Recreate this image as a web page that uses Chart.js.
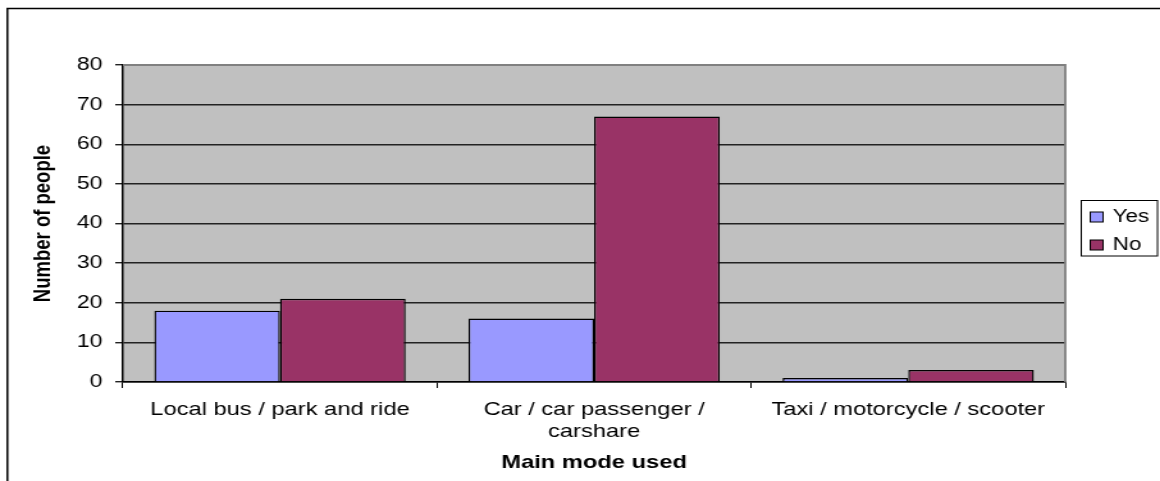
<!DOCTYPE html>
<html>
<head>
<meta charset="utf-8">
<script src="https://cdn.jsdelivr.net/npm/chart.js@4/dist/chart.umd.min.js"></script>
<style>
html,body{margin:0;padding:0;background:#fff;overflow:hidden;}
#wrap{position:relative;width:906px;height:481px;transform:scaleX(1.2804);transform-origin:0 0;}
</style>
</head>
<body>
<div id="wrap"><canvas id="c" width="906" height="481"></canvas></div>
<script>
const categories = [["Local bus / park and ride"], ["Car / car passenger /", "carshare"], ["Taxi / motorcycle / scooter"]];
const seriesNames = ["Yes", "No"];
const yesValues = [18, 16, 1];
const noValues = [21, 67, 3];
const yTicks = [0, 10, 20, 30, 40, 50, 60, 70, 80];
const colors = ["#9999FF", "#993366"];

const FONT = "'Liberation Sans', Arial, sans-serif";

const framePlugin = {
  id: 'frame',
  beforeDraw(chart) {
    const ctx = chart.ctx;
    const a = chart.chartArea;
    ctx.save();
    ctx.fillStyle = '#ffffff';
    ctx.fillRect(0, 0, chart.width, chart.height);
    ctx.strokeStyle = '#000';
    ctx.lineWidth = 1.5;
    ctx.beginPath();
    ctx.moveTo(5.8, chart.height);
    ctx.lineTo(5.8, 8.5);
    ctx.lineTo(chart.width, 8.5);
    ctx.stroke();
    ctx.fillStyle = '#C0C0C0';
    ctx.fillRect(a.left, a.top, a.right - a.left, a.bottom - a.top);
    ctx.restore();
  },
  afterDatasetsDraw(chart) {
    const ctx = chart.ctx;
    const a = chart.chartArea;
    ctx.save();
    ctx.strokeStyle = '#808080';
    ctx.lineWidth = 1.8;
    ctx.beginPath();
    ctx.moveTo(a.left, a.top);
    ctx.lineTo(a.right, a.top);
    ctx.lineTo(a.right, a.bottom);
    ctx.stroke();
    ctx.restore();
  },
  afterDraw(chart) {
    const ctx = chart.ctx;
    const a = chart.chartArea;
    const x0 = a.right + 12.5, y0 = 200.5, w = 59.5, h = 55.5;
    ctx.save();
    ctx.fillStyle = '#fff';
    ctx.fillRect(x0, y0, w, h);
    ctx.strokeStyle = '#000';
    ctx.lineWidth = 1;
    ctx.strokeRect(x0, y0, w, h);
    ctx.font = '17.5px ' + FONT;
    ctx.textBaseline = 'middle';
    chart.data.datasets.forEach((ds, i) => {
      const cy = y0 + 16.5 + i * 28;
      ctx.fillStyle = ds.backgroundColor;
      ctx.fillRect(x0 + 7, cy - 5, 10, 10);
      ctx.strokeStyle = '#000';
      ctx.strokeRect(x0 + 7, cy - 5, 10, 10);
      ctx.fillStyle = '#000';
      ctx.fillText(ds.label, x0 + 24.5, cy);
    });
    ctx.restore();
  }
};

new Chart(document.getElementById('c'), {
  type: 'bar',
  data: {
    labels: categories,
    datasets: [
      { label: seriesNames[0], data: yesValues, backgroundColor: colors[0], borderColor: '#000', borderWidth: 1.4 },
      { label: seriesNames[1], data: noValues, backgroundColor: colors[1], borderColor: '#000', borderWidth: 1.4 }
    ]
  },
  options: {
    responsive: false,
    animation: false,
    devicePixelRatio: 1,
    layout: { padding: { left: 0, top: 65, right: 74, bottom: 0 } },
    datasets: { bar: { categoryPercentage: 0.8, barPercentage: 1.0 } },
    plugins: { legend: { display: false }, tooltip: { enabled: false } },
    scales: {
      x: {
        afterFit(s) { s.height = 99; },
        grid: { display: true, drawOnChartArea: false, color: '#000', tickLength: 6, offset: true },
        border: { display: true, color: '#000', width: 1.5 },
        ticks: { color: '#000', font: { family: FONT, size: 18.5 }, padding: 10.5, maxRotation: 0, autoSkip: false },
        title: { display: true, text: 'Main mode used', color: '#000', font: { family: FONT, size: 18.5, weight: 'bold' }, padding: { top: 0, bottom: 7 } }
      },
      y: {
        min: 0, max: 80,
        afterFit(s) { s.width = 96; },
        afterBuildTicks(s) { s.ticks = yTicks.map(v => ({ value: v })); },
        grid: { color: '#222', lineWidth: 1.4, tickLength: 6 },
        border: { display: true, color: '#000', width: 1.5 },
        ticks: { color: '#000', font: { family: FONT, size: 18 }, padding: 10 },
        title: { display: true, text: 'Number of people', color: '#000', font: { family: FONT, size: 18.5, weight: 'bold' }, padding: { top: 23, bottom: 0 } }
      }
    }
  },
  plugins: [framePlugin]
});
</script>
</body>
</html>
